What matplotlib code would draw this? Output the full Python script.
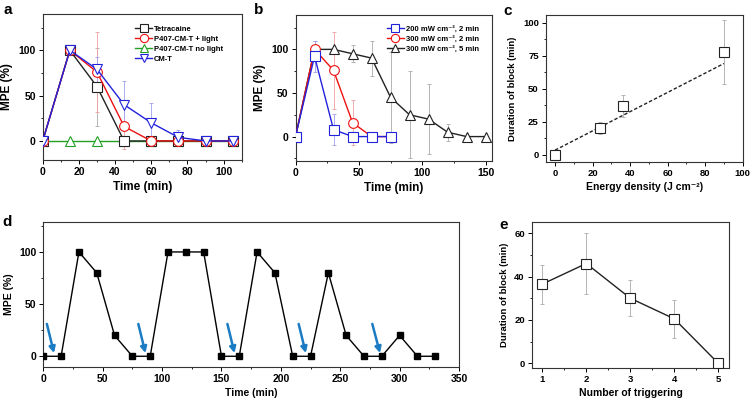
import numpy as np
import matplotlib
matplotlib.use('Agg')
import matplotlib.pyplot as plt
from matplotlib.ticker import MultipleLocator

plt.rcParams['font.family'] = ['Liberation Sans', 'DejaVu Sans']
plt.rcParams['font.weight'] = 'bold'
plt.rcParams['axes.labelweight'] = 'bold'

# ---- data: panel a ----
t_a = [0, 15, 30, 45, 60, 75, 90, 105]
tetracaine = [0, 100, 60, 0, 0, 0, 0, 0]
tetracaine_err = [0, 0, 43, 0, 0, 0, 0, 0]
p407_light = [0, 100, 76, 16, 0, 0, 0, 0]
p407_light_err = [0, 0, 44, 25, 0, 0, 0, 0]
p407_dark = [0, 0, 0, 0, 0, 0, 0, 0]
cmt = [0, 100, 79, 40, 20, 4, 0, 0]
cmt_err = [0, 0, 14, 26, 22, 8, 0, 0]

# ---- data: panel b ----
t_b_short = [0, 15, 30, 45, 60, 75]
b_200_2 = [0, 92, 8, 0, 0, 0]
b_200_2_err = [0, 18, 18, 0, 0, 0]
b_300_2 = [0, 100, 76, 16, 0, 0]
b_300_2_err = [0, 0, 44, 26, 0, 0]
t_b_long = [0, 15, 30, 45, 60, 75, 90, 105, 120, 135, 150]
b_300_5 = [0, 100, 100, 95, 90, 45, 25, 20, 5, 0, 0]
b_300_5_err = [0, 10, 0, 9.5, 20, 52, 50, 40, 10, 0, 0]

# ---- data: panel c ----
energy = [0, 24, 36, 90]
duration_c = [0, 20, 37, 78]
duration_c_err = [0, 4.5, 8.5, 24]
fit_intercept = 3.5
fit_slope = 0.73

# ---- data: panel d ----
t_d = [0, 15, 30, 45, 60, 75, 90, 105, 120, 135, 150, 165, 180, 195, 210,
       225, 240, 255, 270, 285, 300, 315, 330]
mpe_d = [0, 0, 100, 80, 20, 0, 0, 100, 100, 100, 0, 0, 100, 80, 0,
         0, 80, 20, 0, 0, 20, 0, 0]
arrow_start_x = [3, 80, 155, 215, 277]
arrow_end_x = [9, 86, 161, 221, 283.5]
arrow_start_y = 31
arrow_end_y = 3

# ---- data: panel e ----
trigger = [1, 2, 3, 4, 5]
duration_e = [36.5, 46, 30, 20.5, 0]
duration_e_err = [9, 14, 8.3, 8.8, 0]

W, H = 753, 403
fig = plt.figure(figsize=(W / 100, H / 100), dpi=100)


def add_ax(left, top, right, bottom):
    return fig.add_axes([left / W, 1 - bottom / H, (right - left) / W, (bottom - top) / H])


def style(ax, fs):
    for s in ax.spines.values():
        s.set_linewidth(0.8)
        s.set_color('#333333')
    ax.tick_params(which='major', direction='out', length=3, width=0.7, labelsize=fs, pad=2)
    ax.tick_params(which='minor', direction='out', length=1.6, width=0.6)
    for lab in ax.get_xticklabels() + ax.get_yticklabels():
        lab.set_fontweight('bold')


def series(ax, x, y, err, color, ecolor, marker, label=None, ms=7):
    if err is not None:
        ax.errorbar(x, y, yerr=err, fmt='none', ecolor=ecolor, elinewidth=0.6,
                    capsize=1.5, capthick=0.6, zorder=1)
    ax.plot(x, y, color=color, lw=1.0, marker=marker, ms=ms, mfc='white',
            mec=color, mew=0.8, label=label, zorder=3)


# panel a
ax = add_ax(42.7, 14, 241.7, 160)
series(ax, t_a, p407_dark, None, '#22a022', '#88cc88', '^', 'P407-CM-T no light')
series(ax, t_a, tetracaine, tetracaine_err, '#222222', '#aaaaaa', 's', 'Tetracaine', ms=6.5)
series(ax, t_a, p407_light, p407_light_err, '#ee1111', '#f0a0a0', 'o', 'P407-CM-T + light')
series(ax, t_a, cmt, cmt_err, '#2222dd', '#a0a0ee', 'v', 'CM-T')
ax.set_xlim(0, 110)
ax.set_ylim(-21, 140)
ax.xaxis.set_major_locator(MultipleLocator(20))
ax.xaxis.set_minor_locator(MultipleLocator(10))
ax.yaxis.set_major_locator(MultipleLocator(50))
ax.yaxis.set_minor_locator(MultipleLocator(25))
ax.set_xlabel('Time (min)', fontsize=8.5, labelpad=3)
ax.set_ylabel('MPE (%)', fontsize=8.5, labelpad=4)
style(ax, 7.5)
h, l = ax.get_legend_handles_labels()
order = [1, 2, 0, 3]
ax.legend([h[i] for i in order], [l[i] for i in order], loc='upper left',
          bbox_to_anchor=(0.43, 0.97), frameon=False,
          handlelength=2.2, handletextpad=0.3, labelspacing=0.35, markerscale=0.85,
          prop={'weight': 'bold', 'size': 5.5})

# panel b
ax = add_ax(295.5, 14.5, 492, 161)
series(ax, t_b_long, b_300_5, b_300_5_err, '#222222', '#aaaaaa', '^', '300 mW cm⁻², 5 min')
series(ax, t_b_short, b_300_2, b_300_2_err, '#ee1111', '#f0a0a0', 'o', '300 mW cm⁻², 2 min')
series(ax, t_b_short, b_200_2, b_200_2_err, '#2222dd', '#a0a0ee', 's', '200 mW cm⁻², 2 min', ms=6.5)
ax.set_xlim(0, 155)
ax.set_ylim(-28, 140)
ax.xaxis.set_major_locator(MultipleLocator(50))
ax.xaxis.set_minor_locator(MultipleLocator(25))
ax.yaxis.set_major_locator(MultipleLocator(50))
ax.yaxis.set_minor_locator(MultipleLocator(25))
ax.set_xlabel('Time (min)', fontsize=8.5, labelpad=3)
ax.set_ylabel('MPE (%)', fontsize=8.5, labelpad=4)
style(ax, 7.5)
h, l = ax.get_legend_handles_labels()
ax.legend(h[::-1], l[::-1], loc='upper left', bbox_to_anchor=(0.43, 0.97),
          frameon=False, handlelength=2.2, handletextpad=0.3, labelspacing=0.35,
          markerscale=0.85, prop={'weight': 'bold', 'size': 5.5})

# panel c
ax = add_ax(545.7, 15, 742.7, 162)
fit_x = np.array([0, 90])
ax.plot(fit_x, fit_intercept + fit_slope * fit_x, color='#222222', lw=1.0,
        ls=(0, (2.5, 1.5)), zorder=2)
ax.errorbar(energy, duration_c, yerr=duration_c_err, fmt='none', ecolor='#aaaaaa',
            elinewidth=0.6, capsize=1.5, capthick=0.6, zorder=1)
ax.plot(energy, duration_c, ls='none', marker='s', ms=6.5, mfc='white',
        mec='#222222', mew=0.8, zorder=3)
ax.set_xlim(-5, 100)
ax.set_ylim(-5.5, 106)
ax.xaxis.set_major_locator(MultipleLocator(20))
ax.xaxis.set_minor_locator(MultipleLocator(10))
ax.yaxis.set_major_locator(MultipleLocator(25))
ax.yaxis.set_minor_locator(MultipleLocator(12.5))
ax.set_xlabel('Energy density (J cm⁻²)', fontsize=7.5, labelpad=3)
ax.set_ylabel('Duration of block (min)', fontsize=6.8, labelpad=4)
style(ax, 6.8)

# panel d
ax = add_ax(43.3, 221.7, 459, 366.7)
ax.plot(t_d, mpe_d, color='black', lw=1.0, marker='s', ms=4, mfc='black',
        mec='black', zorder=3)
for x0, x1 in zip(arrow_start_x, arrow_end_x):
    ax.annotate('', xy=(x1, arrow_end_y), xytext=(x0, arrow_start_y),
                arrowprops=dict(arrowstyle='-|>', color='#1b7cc4', lw=1.8,
                                mutation_scale=9, shrinkA=0, shrinkB=0), zorder=4)
ax.set_xlim(0, 350)
ax.set_ylim(-10, 129)
ax.xaxis.set_major_locator(MultipleLocator(50))
ax.xaxis.set_minor_locator(MultipleLocator(25))
ax.yaxis.set_major_locator(MultipleLocator(50))
ax.yaxis.set_minor_locator(MultipleLocator(25))
ax.set_xlabel('Time (min)', fontsize=7.5, labelpad=3)
ax.set_ylabel('MPE (%)', fontsize=7.5, labelpad=4)
style(ax, 7.5)

# panel e
ax = add_ax(531.7, 222.3, 729.3, 368.3)
ax.errorbar(trigger, duration_e, yerr=duration_e_err, fmt='none', ecolor='#aaaaaa',
            elinewidth=0.6, capsize=1.5, capthick=0.6, zorder=1)
ax.plot(trigger, duration_e, color='#222222', lw=1.0, marker='s', ms=6.5,
        mfc='white', mec='#222222', mew=0.8, zorder=3)
ax.set_xlim(0.76, 5.25)
ax.set_ylim(-2.3, 65)
ax.xaxis.set_major_locator(MultipleLocator(1))
ax.xaxis.set_minor_locator(MultipleLocator(0.5))
ax.yaxis.set_major_locator(MultipleLocator(20))
ax.yaxis.set_minor_locator(MultipleLocator(10))
ax.set_xlabel('Number of triggering', fontsize=7.5, labelpad=3)
ax.set_ylabel('Duration of block (min)', fontsize=6.8, labelpad=4)
style(ax, 6.8)

# panel letters
for letter, x, y in [('a', 4, 3), ('b', 254, 3), ('c', 503, 4), ('d', 2, 215), ('e', 499, 218)]:
    fig.text(x / W, 1 - y / H, letter, fontsize=11, fontweight='bold', va='top', ha='left')

fig.savefig('out.png', dpi=100)
